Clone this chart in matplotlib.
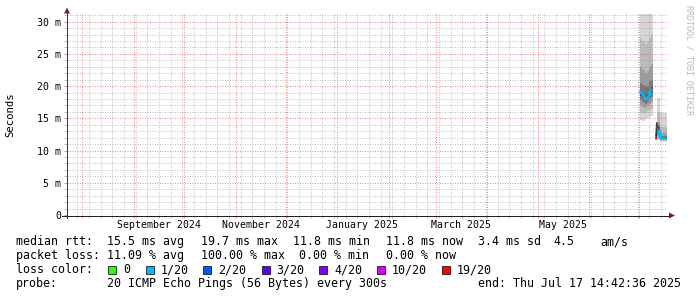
import matplotlib
matplotlib.use("Agg")
import matplotlib.pyplot as plt
import matplotlib.dates as mdates
import matplotlib.ticker as mticker
import matplotlib.transforms as mtrans
from matplotlib.patches import Rectangle, Polygon
from matplotlib.lines import Line2D
import numpy as np
import pandas as pd

# ----------------------------- data -----------------------------
range_start = "2024-07-22 14:42:36"
range_end = "2025-07-17 14:42:36"

# smoke, first block: bin edges and sorted RTT quantiles (ms) per bin
smoke1_edges = ["2025-07-01 15:00", "2025-07-02 22:00", "2025-07-04 03:00",
                "2025-07-05 08:00", "2025-07-06 13:00", "2025-07-07 18:00",
                "2025-07-09 01:30"]
smoke1_q = [
    [14.7, 16.0, 17.0, 17.8, 18.5, 19.3, 20.5, 23.0, 27.5, 31.3],
    [14.6, 15.8, 16.8, 17.6, 18.3, 19.0, 20.2, 22.5, 27.0, 31.3],
    [14.9, 15.9, 16.6, 17.3, 17.9, 18.6, 19.8, 22.0, 26.5, 31.3],
    [15.1, 16.1, 16.9, 17.6, 18.2, 18.9, 20.0, 22.3, 27.0, 31.3],
    [15.2, 16.3, 17.2, 18.0, 18.8, 19.6, 20.8, 23.0, 27.5, 31.3],
    [15.3, 16.5, 17.5, 18.3, 19.1, 19.9, 21.0, 23.5, 28.0, 31.3],
]

# smoke, second block
smoke2_edges = ["2025-07-10 10:00", "2025-07-11 18:00", "2025-07-13 07:00",
                "2025-07-17 14:42"]
smoke2_q = [
    [11.6, 11.8, 11.9, 12.0, 12.2, 12.4, 12.7, 13.0, 13.5, 13.9],
    [11.6, 12.0, 12.3, 12.6, 13.0, 13.4, 13.8, 14.5, 16.0, 18.2],
    [11.4, 11.6, 11.8, 11.9, 12.0, 12.1, 12.3, 12.7, 13.6, 15.8],
]

# median RTT line (ms) with loss class per point
median1_times = ["2025-07-01 00:30", "2025-07-03 01:30", "2025-07-05 01:00",
                 "2025-07-06 16:00", "2025-07-07 15:00", "2025-07-08 11:00"]
median1_ms = [19.17, 18.82, 17.89, 18.40, 19.33, 19.59]
median1_loss = ["1/20", "1/20", "1/20", "1/20", "1/20", "1/20"]

median2_times = ["2025-07-10 10:00", "2025-07-11 06:00", "2025-07-11 10:00",
                 "2025-07-12 22:00", "2025-07-13 10:00", "2025-07-17 14:00"]
median2_ms = [11.90, 11.90, 14.30, 13.30, 11.86, 11.85]
median2_loss = ["19/20", "19/20", None, "1/20", "1/20", "1/20"]

loss_labels = ["0", "1/20", "2/20", "3/20", "4/20", "10/20", "19/20"]
loss_colors = ["#26ff00", "#00b8ff", "#0059ff", "#5e00ff", "#7e00ff",
               "#dd00ff", "#ff0000"]

y_ticks_ms = [0, 5, 10, 15, 20, 25, 30]
y_tick_labels = ["0", "5 m", "10 m", "15 m", "20 m", "25 m", "30 m"]
x_label_dates = ["2024-09-16", "2024-11-16", "2025-01-16", "2025-03-16",
                 "2025-05-16"]
x_label_texts = ["September 2024", "November 2024", "January 2025",
                 "March 2025", "May 2025"]

legend_rtt = ["median rtt:", "15.5 ms avg", "19.7 ms max", "11.8 ms min",
              "11.8 ms now", "3.4 ms sd", "4.5", "am/s"]
legend_loss = ["packet loss:", "11.09 % avg", "100.00 % max", "0.00 % min",
               "0.00 % now"]
legend_probe = ["probe:", "20 ICMP Echo Pings (56 Bytes) every 300s",
                "end: Thu Jul 17 14:42:36 2025"]

# ----------------------------- layout -----------------------------
W, H, DPI = 697, 297, 100
MONO = "DejaVu Sans Mono"
PX = 72.0 / DPI  # points per pixel

fig = plt.figure(figsize=(W / DPI, H / DPI), dpi=DPI)
fig.patch.set_facecolor("white")


def fx(px):
    return px / W


def fy(py):
    return 1.0 - py / H


ax_l, ax_r, ax_t, ax_b = 66.5, 667.0, 13.5, 215.0
ax = fig.add_axes([fx(ax_l), fy(ax_b), (ax_r - ax_l) / W, (ax_b - ax_t) / H])
ax.set_facecolor("white")
for s in ax.spines.values():
    s.set_visible(False)

t0 = mdates.date2num(pd.Timestamp(range_start))
t1 = mdates.date2num(pd.Timestamp(range_end))
ax.set_xlim(t0, t1)
ax.set_ylim(0, 31.27)

# ---- smoke ----
smoke_cols = ["#d6d6d6", "#bcbcbc", "#9c9c9c", "#787878", "#545454"]


def draw_smoke(edges, q):
    e = mdates.date2num(pd.to_datetime(edges))
    for k in range(5):
        lo = [b[k] for b in q]
        hi = [b[9 - k] for b in q]
        ax.fill_between(e, lo + [lo[-1]], hi + [hi[-1]], step="post",
                        color=smoke_cols[k], lw=0, zorder=1)


draw_smoke(smoke1_edges, smoke1_q)
draw_smoke(smoke2_edges, smoke2_q)

# ---- median ----
col_of = dict(zip(loss_labels, loss_colors))


def draw_median(times, vals, loss):
    t = mdates.date2num(pd.to_datetime(times))
    n = len(t)
    for i in range(n - 1):
        if loss[i] is None or loss[i + 1] is None:
            ax.plot(t[i:i + 2], vals[i:i + 2], color="#202020", lw=0.8 * PX,
                    zorder=3)
        elif loss[i] == loss[i + 1]:
            ax.plot(t[i:i + 2], vals[i:i + 2], color=col_of[loss[i]],
                    lw=2.0, solid_capstyle="butt", zorder=4)
    for i in range(n):
        if loss[i] is None:
            continue
        left = i > 0 and loss[i - 1] == loss[i]
        right = i < n - 1 and loss[i + 1] == loss[i]
        if not (left or right):
            ax.plot([t[i]], [vals[i]], "s", ms=2.5, color=col_of[loss[i]],
                    mec="none", zorder=4)


draw_median(median1_times, median1_ms, median1_loss)
draw_median(median2_times, median2_ms, median2_loss)

# ---- grid ----
ax.xaxis.set_major_locator(mdates.MonthLocator())
ax.xaxis.set_minor_locator(mdates.WeekdayLocator(byweekday=mdates.MO))
ax.yaxis.set_major_locator(mticker.FixedLocator(y_ticks_ms))
ax.yaxis.set_minor_locator(mticker.MultipleLocator(1))
ax.set_axisbelow(False)
mgrid_rgb, mgrid_a = "#de4f4f", 0.65
grid_rgb, grid_a = "#8f8f8f", 0.55
ax.grid(which="major", color=mgrid_rgb, alpha=mgrid_a, lw=1 * PX,
        linestyle=(0, (1, 1.5)))
ax.grid(which="minor", color=grid_rgb, alpha=grid_a, lw=1 * PX,
        linestyle=(0, (1, 1.5)))
mtick_col = (0.87, 0.31, 0.31, 0.65)
tick_col = (0.56, 0.56, 0.56, 0.55)
ax.tick_params(axis="x", which="both", labelbottom=False, length=3 * PX,
               width=1 * PX)
ax.tick_params(axis="x", which="major", color=mtick_col)
ax.tick_params(axis="x", which="minor", color=tick_col)
ax.tick_params(axis="y", which="major", length=3 * PX, width=1 * PX,
               color=mtick_col, pad=2.5 * PX, labelsize=7.1)
ax.tick_params(axis="y", which="minor", length=3 * PX, width=1 * PX,
               color=tick_col)
ax.set_yticks(y_ticks_ms)
ax.set_yticklabels(y_tick_labels, family=MONO, fontsize=7.1)

# x labels at mid-month
xt = mtrans.blended_transform_factory(ax.transData, fig.transFigure)
for d, s in zip(x_label_dates, x_label_texts):
    ax.text(mdates.date2num(pd.Timestamp(d)), fy(228.0), s, transform=xt,
            ha="center", va="baseline", family=MONO, fontsize=7.1,
            color="black", clip_on=False)

# ---- axes lines & arrows (figure pixel coords) ----
fig.add_artist(Line2D([fx(62), fx(669)], [fy(215.5), fy(215.5)],
                      color="#1f1f1f", lw=1 * PX))
fig.add_artist(Line2D([fx(67.0), fx(67.0)], [fy(218), fy(12)],
                      color="#3a3a3a", lw=1 * PX))
arrow_col = "#801f1f"
fig.add_artist(Polygon([[fx(64.0), fy(13.5)], [fx(70.0), fy(13.5)],
                        [fx(67.0), fy(7.5)]], closed=True, color=arrow_col,
                       lw=0))
fig.add_artist(Polygon([[fx(669.0), fy(212.5)], [fx(669.0), fy(218.5)],
                        [fx(675.0), fy(215.5)]], closed=True, color=arrow_col,
                       lw=0))

# ---- labels ----
fig.text(fx(10.5), fy(114.5), "Seconds", rotation=90, ha="center",
         va="center", family=MONO, fontsize=7.7)
fig.text(fx(688.5), fy(5.0), "RRDTOOL / TOBI OETIKER", rotation=270,
         ha="center", va="top", family=MONO, fontsize=6.0, color="#b8b8b8")

# ---- legend ----
LFS = 8.35
rtt_x = [16, 107.3, 201, 293, 385.7, 478.3, 553, 600]
for s, x in zip(legend_rtt, rtt_x):
    fig.text(fx(x), fy(245.3), s, family=MONO, fontsize=LFS, va="baseline")
loss_x = [16, 107.3, 201, 299, 385.7]
for s, x in zip(legend_loss, loss_x):
    fig.text(fx(x), fy(259.2), s, family=MONO, fontsize=LFS, va="baseline")

fig.text(fx(16), fy(273.1), "loss color:", family=MONO, fontsize=LFS,
         va="baseline")
box_x = [108.3, 146.0, 203.0, 261.7, 319.0, 376.7, 441.7]
for lab, col, bx in zip(loss_labels, loss_colors, box_x):
    fig.add_artist(Rectangle((fx(bx), fy(274.0)), 8 / W, 8 / H,
                             facecolor=col, edgecolor="black", lw=0.7 * PX))
    fig.text(fx(bx + 15.0), fy(273.1), lab, family=MONO, fontsize=LFS,
             va="baseline")

probe_x = [16, 107.3, 478.3]
for s, x in zip(legend_probe, probe_x):
    fig.text(fx(x), fy(287.0), s, family=MONO, fontsize=LFS, va="baseline")

fig.savefig("out.png", dpi=DPI, facecolor="white")
